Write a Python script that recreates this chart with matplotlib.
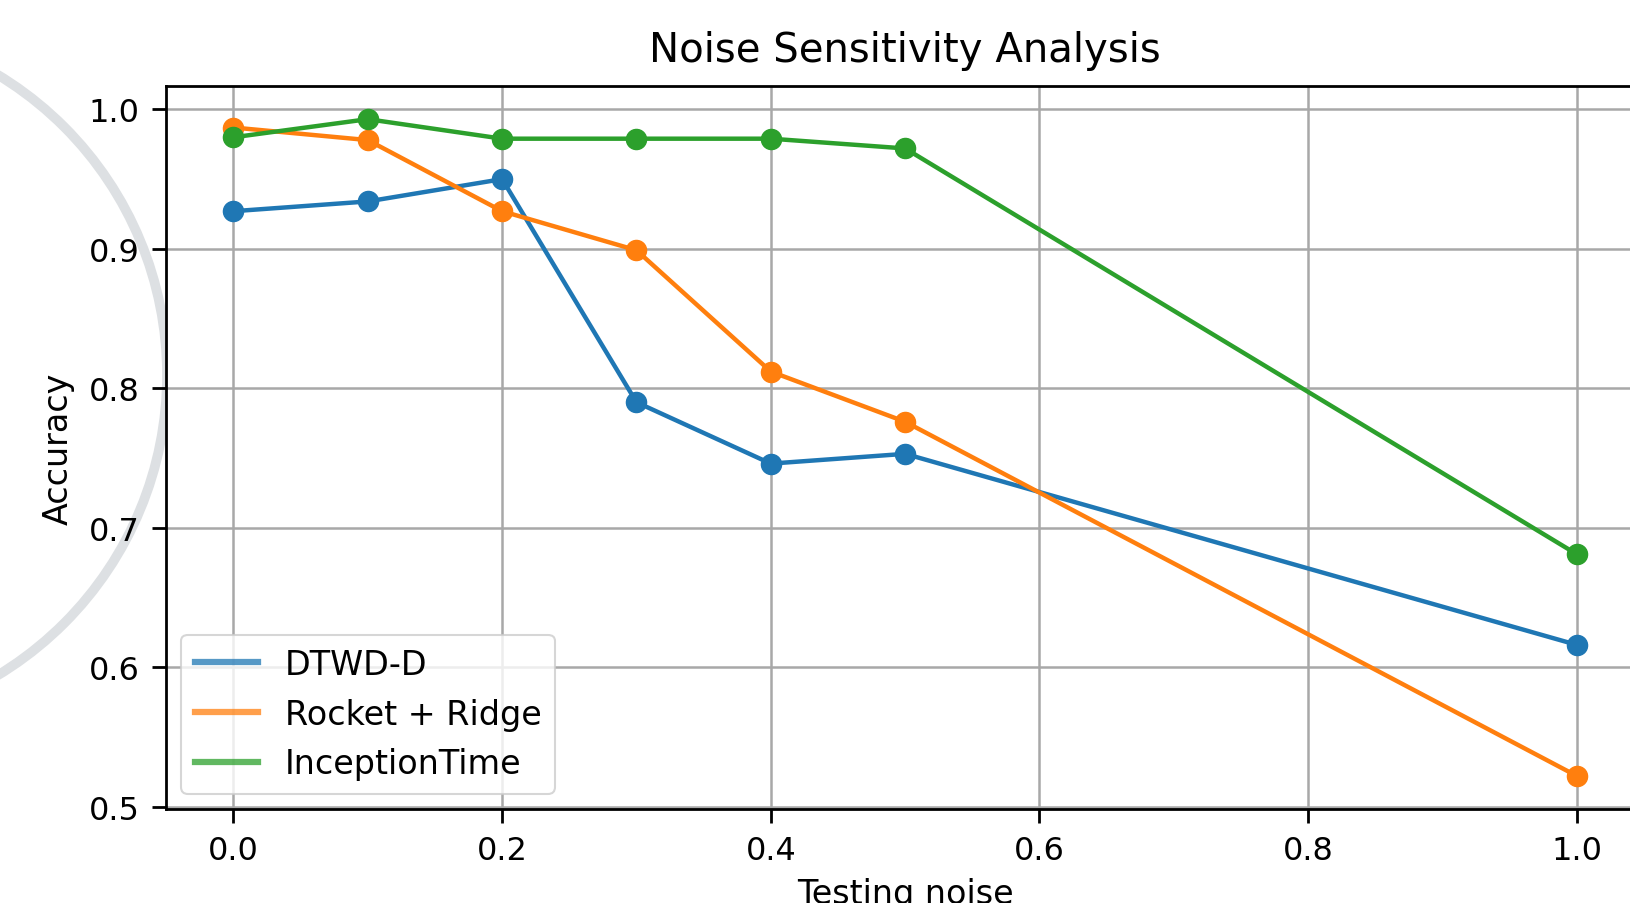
import matplotlib
matplotlib.use("Agg")
import matplotlib.pyplot as plt
from matplotlib.patches import Ellipse

# testing noise levels and accuracy per model
noise = [0.0, 0.1, 0.2, 0.3, 0.4, 0.5, 1.0]
dtwd_d = [0.927, 0.934, 0.950, 0.790, 0.746, 0.753, 0.616]
rocket_ridge = [0.987, 0.978, 0.927, 0.899, 0.812, 0.776, 0.522]
inception_time = [0.980, 0.993, 0.979, 0.979, 0.979, 0.972, 0.681]

labels = ["DTWD-D", "Rocket + Ridge", "InceptionTime"]
series = [dtwd_d, rocket_ridge, inception_time]
colors = ["tab:blue", "tab:orange", "tab:green"]

fig = plt.figure(figsize=(16.3, 9.04), dpi=100)
ax = fig.add_axes([0.102, 0.1042, 0.9066, 0.7992])

# faint grey arc behind the plot (screenshot artefact)
arc = Ellipse((-0.1129, 0.584), 0.4307, 0.7765, transform=fig.transFigure,
              fill=False, edgecolor="#dde0e3", linewidth=7, zorder=-1)
fig.patches.append(arc)

for vals, lab, c in zip(series, labels, colors):
    ax.plot(noise, vals, color=c, linewidth=3.2, label=lab)
    ax.scatter(noise, vals, color=c, s=210, zorder=3)

ax.set_title("Noise Sensitivity Analysis", fontsize=29, pad=18)
ax.set_xlabel("Testing noise", fontsize=24, labelpad=8)
ax.set_ylabel("Accuracy", fontsize=24, labelpad=10)
ax.set_xticks([0.0, 0.2, 0.4, 0.6, 0.8, 1.0])
ax.set_yticks([0.5, 0.6, 0.7, 0.8, 0.9, 1.0])
ax.tick_params(labelsize=23, length=10, width=2, pad=9)
for sp in ax.spines.values():
    sp.set_linewidth(2)
ax.grid(True, color="#a8a8a8", linewidth=1.8)
ax.set_axisbelow(True)

leg = ax.legend(loc="lower left", fontsize=24, handlelength=1.9,
                borderaxespad=0.45)
for h in leg.get_lines():
    h.set_linewidth(4.5)
    h.set_alpha(0.75)
leg.get_frame().set_linewidth(1.5)

fig.savefig("out.png", dpi=100)
